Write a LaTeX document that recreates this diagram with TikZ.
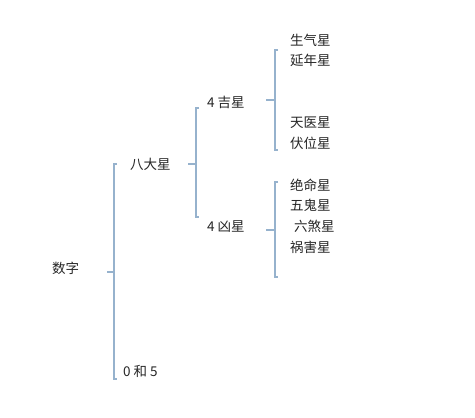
\documentclass[tikz,border=0pt]{standalone}
\usepackage{fontspec}
\setmainfont{Noto Sans CJK SC}
\definecolor{brkc}{RGB}{150,178,205}
\begin{document}
\begin{tikzpicture}[x=1pt,y=-1pt,
  lbl/.style={anchor=west,inner sep=0pt,font=\fontsize{13.5}{14}\selectfont,text=black!85},
  brk/.style={draw=brkc,line width=1.4pt}]
\useasboundingbox (0,0) rectangle (475,418);
\fill[white] (0,0) rectangle (475,418);
% texts
\node[lbl] (shuzi) at (52,268) {数字};
\node[lbl] (bada) at (130,164) {八大星};
\node[lbl] (ling) at (123,371) {0 和 5};
\node[lbl] (ji) at (207,102) {4 吉星};
\node[lbl] (xiong) at (207,227) {4 凶星};
\node[lbl] (s1) at (290,40) {生气星};
\node[lbl] (s2) at (290,60) {延年星};
\node[lbl] (s3) at (290,123) {天医星};
\node[lbl] (s4) at (290,143) {伏位星};
\node[lbl] (x1) at (290,185) {绝命星};
\node[lbl] (x2) at (290,205) {五鬼星};
\node[lbl] (x3) at (294,226) {六煞星};
\node[lbl] (x4) at (290,247) {祸害星};
% brackets
\coordinate (b1t) at (114,164); \coordinate (b1b) at (114,379);
\draw[brk] ([xshift=3pt]b1t) -- (b1t) -- (b1b) -- ([xshift=3pt]b1b);
\draw[brk] (107,272) -- (114,272);
\coordinate (b2t) at (196,108); \coordinate (b2b) at (196,217);
\draw[brk] ([xshift=3pt]b2t) -- (b2t) -- (b2b) -- ([xshift=3pt]b2b);
\draw[brk] (188,164) -- (196,164);
\coordinate (b3t) at (275,50); \coordinate (b3b) at (275,150);
\draw[brk] ([xshift=3pt]b3t) -- (b3t) -- (b3b) -- ([xshift=3pt]b3b);
\draw[brk] (266,100) -- (275,100);
\coordinate (b4t) at (275,182); \coordinate (b4b) at (275,277);
\draw[brk] ([xshift=3pt]b4t) -- (b4t) -- (b4b) -- ([xshift=3pt]b4b);
\draw[brk] (266,230) -- (275,230);
\end{tikzpicture}
\end{document}
